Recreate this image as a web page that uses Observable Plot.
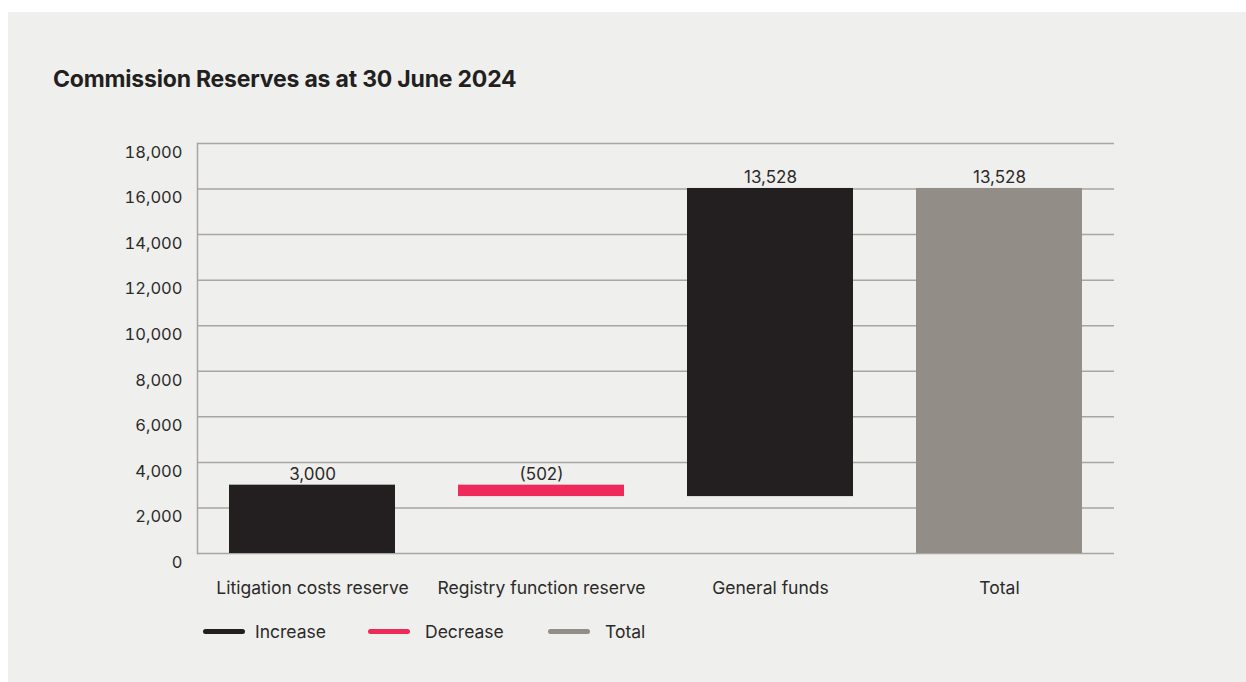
<!DOCTYPE html>
<html>
<head>
<meta charset="utf-8">
<script src="https://cdn.jsdelivr.net/npm/d3@7"></script>
<script src="https://cdn.jsdelivr.net/npm/@observablehq/plot@0.6"></script>
<style>
  html, body { margin: 0; padding: 0; background: #ffffff; }
  body { width: 1246px; height: 682px; overflow: hidden; position: relative; font-family: Inter, "Noto Sans", sans-serif; }
  #panel { position: absolute; left: 8px; top: 12px; width: 1238px; height: 670px; background: #efefed; }
  #title { position: absolute; left: 45px; top: 56px; font-size: 23px; line-height: 23px; font-weight: 700; color: #231f20; letter-spacing: -0.2px; white-space: nowrap; }
  #chart { position: absolute; left: 0; top: 113px; }
  #legend { position: absolute; left: 0; top: 609px; height: 20px; width: 700px; }
  .item { position: absolute; top: 0; height: 20px; display: flex; align-items: center; font-size: 17.5px; color: #2b2a29; }
  .sw { width: 42px; height: 5px; border-radius: 3px; margin-right: 10px; }
</style>
</head>
<body>
<div id="panel">
  <div id="title">Commission Reserves as at 30 June 2024</div>
  <div id="chart"></div>
  <div id="legend"></div>
</div>
<script>
// Data
const categories = ["Litigation costs reserve", "Registry function reserve", "General funds", "Total"];
const changes = [3000, -502, 13528];           // movements for the first three bars
const types = ["Increase", "Decrease", "Increase", "Total"];
const valueLabels = ["3,000", "(502)", "13,528", "13,528"];
const yTicks = [0, 2000, 4000, 6000, 8000, 10000, 12000, 14000, 16000, 18000];
const legendItems = ["Increase", "Decrease", "Total"];
const legendColors = ["#231f20", "#ee2a5a", "#928d86"];

// Build waterfall rows
let running = 0;
const rows = categories.map((c, i) => {
  if (types[i] === "Total") {
    return {cat: c, start: 0, end: running, type: types[i], label: valueLabels[i]};
  }
  const start = running;
  running += changes[i];
  return {cat: c, start, end: running, type: types[i], label: valueLabels[i]};
});

const gridColor = "#a9a59f";
const textColor = "#2b2a29";

const chart = Plot.plot({
  width: 1238,
  height: 480,
  marginLeft: 189,
  marginRight: 132,
  marginTop: 18,
  marginBottom: 52,
  style: {fontFamily: "Inter, 'Noto Sans', sans-serif", background: "transparent", color: textColor},
  x: {domain: categories, paddingInner: 0.276, paddingOuter: 0.138, label: null},
  y: {domain: [0, 18000], label: null},
  color: {domain: legendItems, range: legendColors},
  marks: [
    Plot.gridY(yTicks, {stroke: gridColor, strokeOpacity: 1, strokeWidth: 1.5}),
    Plot.frame({anchor: "left", stroke: gridColor, strokeOpacity: 1, strokeWidth: 1.5}),
    Plot.axisY(yTicks, {tickSize: 0, tickPadding: 15, dy: 9, fontSize: 16.5, tickFormat: d3.format(","), fill: textColor, label: null}),
    Plot.axisX({tickSize: 0, tickPadding: 28, fontSize: 17.5, fill: textColor, label: null}),
    Plot.barY(rows, {x: "cat", y1: "start", y2: "end", fill: "type"}),
    Plot.text(rows, {x: "cat", y: d => Math.max(d.start, d.end), text: "label", dy: -11, fontSize: 17, fill: textColor})
  ]
});
document.getElementById("chart").appendChild(chart);

// Legend
const legend = document.getElementById("legend");
const legendX = [195, 360, 540];
legendItems.forEach((name, i) => {
  const el = document.createElement("div");
  el.className = "item";
  el.style.left = legendX[i] + "px";
  const sw = document.createElement("span");
  sw.className = "sw";
  sw.style.background = legendColors[i];
  if (i > 0) sw.style.marginRight = "15px";
  el.appendChild(sw);
  el.appendChild(document.createTextNode(name));
  legend.appendChild(el);
});
</script>
</body>
</html>
